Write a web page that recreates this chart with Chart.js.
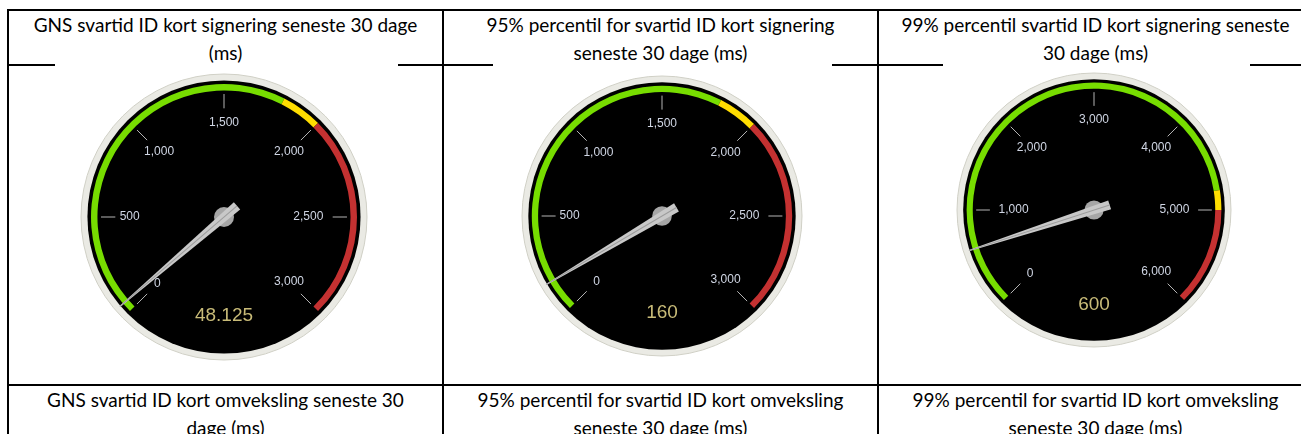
<!DOCTYPE html>
<html>
<head>
<meta charset="utf-8">
<script src="https://cdn.jsdelivr.net/npm/chart.js@4.4.1/dist/chart.umd.min.js"></script>
<style>
  body { margin: 0; background: #fff; width: 1301px; height: 434px; overflow: hidden; position: relative; font-family: Lato, "Open Sans", sans-serif; }
  .line { position: absolute; background: #000; }
  .cell { position: absolute; text-align: center; font-size: 19px; line-height: 28px; color: #000; }
  canvas.gauge { position: absolute; background: #fff; }
</style>
</head>
<body>
<!-- tabel-rammer -->
<div class="line" style="left:7px;top:9px;width:1294px;height:2px"></div>
<div class="line" style="left:7px;top:9px;width:2px;height:425px"></div>
<div class="line" style="left:442px;top:9px;width:2px;height:425px"></div>
<div class="line" style="left:877px;top:9px;width:2px;height:425px"></div>
<div class="line" style="left:7px;top:64px;width:1294px;height:2px"></div>
<div class="line" style="left:7px;top:384px;width:1294px;height:2px"></div>

<div class="cell" style="left:9px;top:11px;width:433px">GNS svartid ID kort signering seneste 30 dage<br>(ms)</div>
<div class="cell" style="left:444px;top:11px;width:433px">95% percentil for svartid ID kort signering<br>seneste 30 dage (ms)</div>
<div class="cell" style="left:879px;top:11px;width:433px">99% percentil svartid ID kort signering seneste<br>30 dage (ms)</div>

<div class="cell" style="left:9px;top:386px;width:433px">GNS svartid ID kort omveksling seneste 30<br>dage (ms)</div>
<div class="cell" style="left:444px;top:386px;width:433px">95% percentil for svartid ID kort omveksling<br>seneste 30 dage (ms)</div>
<div class="cell" style="left:879px;top:386px;width:433px">99% percentil for svartid ID kort omveksling<br>seneste 30 dage (ms)</div>

<canvas id="g1" class="gauge"></canvas>
<canvas id="g2" class="gauge"></canvas>
<canvas id="g3" class="gauge"></canvas>

<script>
// zoner: grøn / gul / rød (ms)
const bandNames = ['OK', 'Advarsel', 'Kritisk'];
const bandColors = ['#77dd00', '#ffdd00', '#c43131'];
const bandsSignAvg = [1800, 200, 1000];
const bandsSign95 = [1800, 200, 1000];
const bandsSign99 = [4800, 200, 1000];

// skala-etiketter
const ticksSignAvg = [0, 500, 1000, 1500, 2000, 2500, 3000];
const ticksSign95 = [0, 500, 1000, 1500, 2000, 2500, 3000];
const ticksSign99 = [0, 1000, 2000, 3000, 4000, 5000, 6000];

// aktuelle målinger
const values = [48.125, 160, 600];

// placering af hver måler på siden
const boxes = [
  { id: 'g1', left: 55, top: 63, width: 343, height: 318, cx: 224, cy: 217, R: 143 },
  { id: 'g2', left: 493, top: 63, width: 339, height: 318, cx: 662, cy: 216, R: 140 },
  { id: 'g3', left: 943, top: 63, width: 307, height: 318, cx: 1094, cy: 210, R: 137 }
];

const gaugePlugin = {
  id: 'gauge',
  beforeDatasetsDraw(chart, args, opts) {
    const { x, y } = chart.getDatasetMeta(0).data[0];
    const R = opts.faceRadius;
    const ctx = chart.ctx;
    ctx.save();
    ctx.beginPath();
    ctx.arc(x, y, R, 0, Math.PI * 2);
    ctx.fillStyle = '#eaeae4';
    ctx.fill();
    ctx.lineWidth = 1;
    ctx.strokeStyle = '#d0d0c6';
    ctx.stroke();
    ctx.beginPath();
    ctx.arc(x, y, R * 0.955, 0, Math.PI * 2);
    ctx.fillStyle = '#000';
    ctx.fill();
    ctx.restore();
  },
  afterDatasetsDraw(chart, args, opts) {
    const meta = chart.getDatasetMeta(0);
    const arcs = meta.data;
    const { x, y } = arcs[0];
    const a0 = arcs[0].startAngle;
    const a1 = arcs[arcs.length - 1].endAngle;
    const total = chart.data.datasets[0].data.reduce((s, v) => s + v, 0);
    const angleOf = v => a0 + (v - opts.ticks[0]) / total * (a1 - a0);
    const R = opts.faceRadius;
    const ctx = chart.ctx;
    ctx.save();

    // streger og tal
    ctx.font = '12px "Liberation Sans", Arial, sans-serif';
    ctx.textAlign = 'center';
    ctx.textBaseline = 'middle';
    opts.ticks.forEach(t => {
      const a = angleOf(t);
      const c = Math.cos(a), s = Math.sin(a);
      ctx.beginPath();
      ctx.moveTo(x + c * R * 0.76, y + s * R * 0.76);
      ctx.lineTo(x + c * R * 0.86, y + s * R * 0.86);
      ctx.strokeStyle = '#b4b4b4';
      ctx.lineWidth = 1;
      ctx.stroke();
      const txt = t.toLocaleString('en-US');
      const w = ctx.measureText(txt).width;
      const r = R * 0.66 - Math.max(0, w - 20) * Math.pow(c, 4);
      ctx.fillStyle = '#d0d6e4';
      ctx.fillText(txt, x + c * r, y + s * r);
    });

    // værdi
    ctx.font = '19px "Liberation Sans", Arial, sans-serif';
    ctx.fillStyle = '#c8bb78';
    ctx.fillText(String(opts.value), x, y + R * 0.69);

    // nav
    ctx.beginPath();
    ctx.arc(x, y, R * 0.07, 0, Math.PI * 2);
    ctx.fillStyle = '#a6a6a6';
    ctx.fill();

    // viser
    const av = angleOf(opts.value);
    const hw = R * 0.034;
    ctx.translate(x, y);
    ctx.rotate(av);
    ctx.beginPath();
    ctx.moveTo(-R * 0.12, -hw);
    ctx.lineTo(-R * 0.12, hw);
    ctx.lineTo(R * 0.96, 0.6);
    ctx.lineTo(R * 0.96, -0.6);
    ctx.closePath();
    ctx.fillStyle = '#c8c8c8';
    ctx.fill();
    ctx.beginPath();
    ctx.moveTo(-R * 0.12, 0);
    ctx.lineTo(R * 0.96, 0);
    ctx.strokeStyle = '#9c9c9c';
    ctx.lineWidth = 1;
    ctx.stroke();
    ctx.restore();
  }
};

function makeGauge(box, bands, ticks, value) {
  const canvas = document.getElementById(box.id);
  canvas.width = box.width;
  canvas.height = box.height;
  canvas.style.left = box.left + 'px';
  canvas.style.top = box.top + 'px';

  const bandR = box.R * 0.93;
  // doughnut med 270° bue flytter centrum nedad; kompenser via padding
  const drop = (1 - Math.SQRT1_2) / 2 * bandR;
  const areaH = 2 * (box.cy - box.top - drop);
  const areaW = 2 * (box.cx - box.left);

  new Chart(canvas, {
    type: 'doughnut',
    data: {
      labels: bandNames,
      datasets: [{
        data: bands,
        backgroundColor: bandColors,
        borderWidth: 0
      }]
    },
    options: {
      responsive: false,
      animation: false,
      events: [],
      rotation: -135,
      circumference: 270,
      radius: bandR,
      cutout: (0.885 / 0.93 * 100) + '%',
      layout: {
        padding: { left: 0, top: 0, right: box.width - areaW, bottom: box.height - areaH }
      },
      plugins: {
        legend: { display: false },
        tooltip: { enabled: false },
        gauge: { faceRadius: box.R, ticks: ticks, value: value }
      }
    },
    plugins: [gaugePlugin]
  });
}

makeGauge(boxes[0], bandsSignAvg, ticksSignAvg, values[0]);
makeGauge(boxes[1], bandsSign95, ticksSign95, values[1]);
makeGauge(boxes[2], bandsSign99, ticksSign99, values[2]);
</script>
</body>
</html>
